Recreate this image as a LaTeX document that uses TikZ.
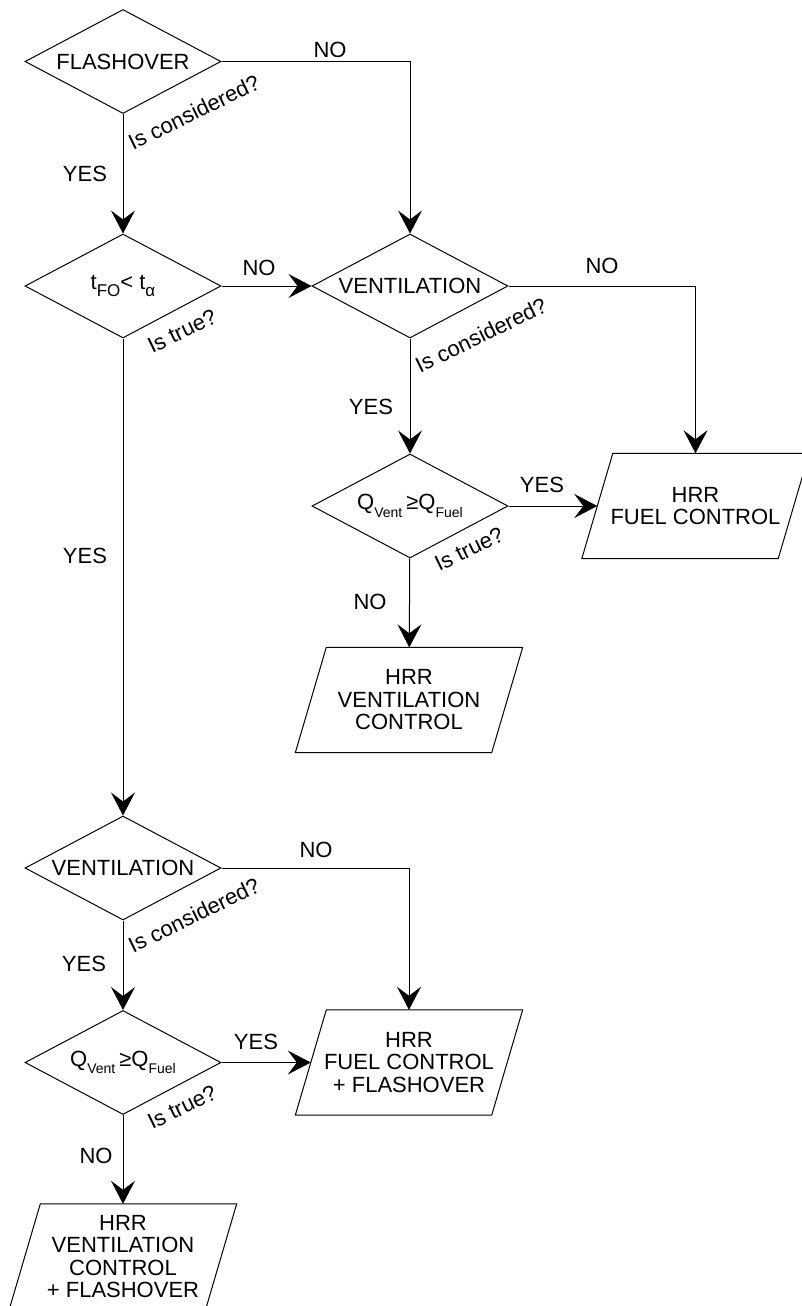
\documentclass[tikz,border=0pt]{standalone}
\usepackage{fontspec}
\setmainfont{Liberation Sans}
\usetikzlibrary{shapes.geometric}
\usetikzlibrary{arrows.meta}
\newcommand\lowsub[2]{\raisebox{-7.5pt}{\fontsize{#1}{#1}\selectfont #2}}

\tikzset{
  decision/.style={diamond, aspect=1.885, draw, line width=1pt, minimum width=196pt, minimum height=104pt, inner sep=0pt},
  iobox/.style={minimum width=196pt, minimum height=105pt, inner sep=0pt, align=center},
  slant/.style={line width=1pt},
  flow/.style={line width=1pt, -{Stealth[length=23pt,width=24pt,inset=9pt]}},
  question/.style={rotate=26},
}

\begin{document}
\begin{tikzpicture}[x=1pt,y=-1pt,font=\fontsize{22}{22.5}\selectfont]

\useasboundingbox (0,0) rectangle (801,1306);

% decisions
\node[decision] (flash) at (123,61.5) {FLASHOVER};
\node[decision] (tfo) at (123,286) {t\lowsub{17}{FO}< t\lowsub{17}{α}};
\node[decision] (ventA) at (410,286) {VENTILATION};
\node[decision] (qA) at (410,506) {Q\lowsub{14}{Vent}\hspace{4pt}≥Q\lowsub{14}{Fuel}};
\node[decision] (ventB) at (123,868) {VENTILATION};
\node[decision] (qB) at (123,1062.5) {Q\lowsub{14}{Vent}\hspace{4pt}≥Q\lowsub{14}{Fuel}};

% results
\node[iobox] (fuelA) at (695.5,506) {HRR\\FUEL CONTROL};
\node[iobox] (ventcA) at (409,700) {HRR\\VENTILATION\\CONTROL};
\node[iobox] (fuelB) at (409,1062.5) {HRR\\FUEL CONTROL\\+ FLASHOVER};
\node[iobox] (ventcB) at (123,1256.5) {HRR\\VENTILATION\\CONTROL\\+ FLASHOVER};
\foreach \n in {fuelA,ventcA,fuelB,ventcB}
  \draw[slant] ([xshift=15.5pt]\n.north west) -- ([xshift=15.5pt]\n.north east)
    -- ([xshift=-15.5pt]\n.south east) -- ([xshift=-15.5pt]\n.south west) -- cycle;

% connectors
\draw[flow] (flash) -- (tfo);
\draw[flow] (flash.east) -| (ventA);
\draw[flow] (tfo) -- (ventA);
\draw[flow] (tfo) -- (ventB);
\draw[flow] (ventA.east) -| (fuelA);
\draw[flow] (ventA) -- (qA);
\draw[flow] (qA) -- (fuelA);
\draw[flow] (qA) -- (ventcA);
\draw[flow] (ventB.east) -| (fuelB);
\draw[flow] (ventB) -- (qB);
\draw[flow] (qB) -- (fuelB);
\draw[flow] (qB) -- (ventcB);

% answers
\node (no1) at (330,49.5) {NO};
\node (yes1) at (85,174) {YES};
\node[question] (is1) at (194,112) {Is considered?};
\node (no2) at (259,268) {NO};
\node[question] (is2) at (182,331) {Is true?};
\node (yes2) at (85,556) {YES};
\node (no3) at (602,266) {NO};
\node[question] (is3) at (481,335) {Is considered?};
\node (yes3) at (371,407) {YES};
\node (yes4) at (542,485) {YES};
\node[question] (is4) at (469,549) {Is true?};
\node (no4) at (370,602) {NO};
\node (no5) at (316,850) {NO};
\node[question] (is5) at (194,915) {Is considered?};
\node (yes5) at (84,964) {YES};
\node (yes6) at (256,1042) {YES};
\node[question] (is6) at (182,1107) {Is true?};
\node (no6) at (96,1156) {NO};

\end{tikzpicture}
\end{document}
